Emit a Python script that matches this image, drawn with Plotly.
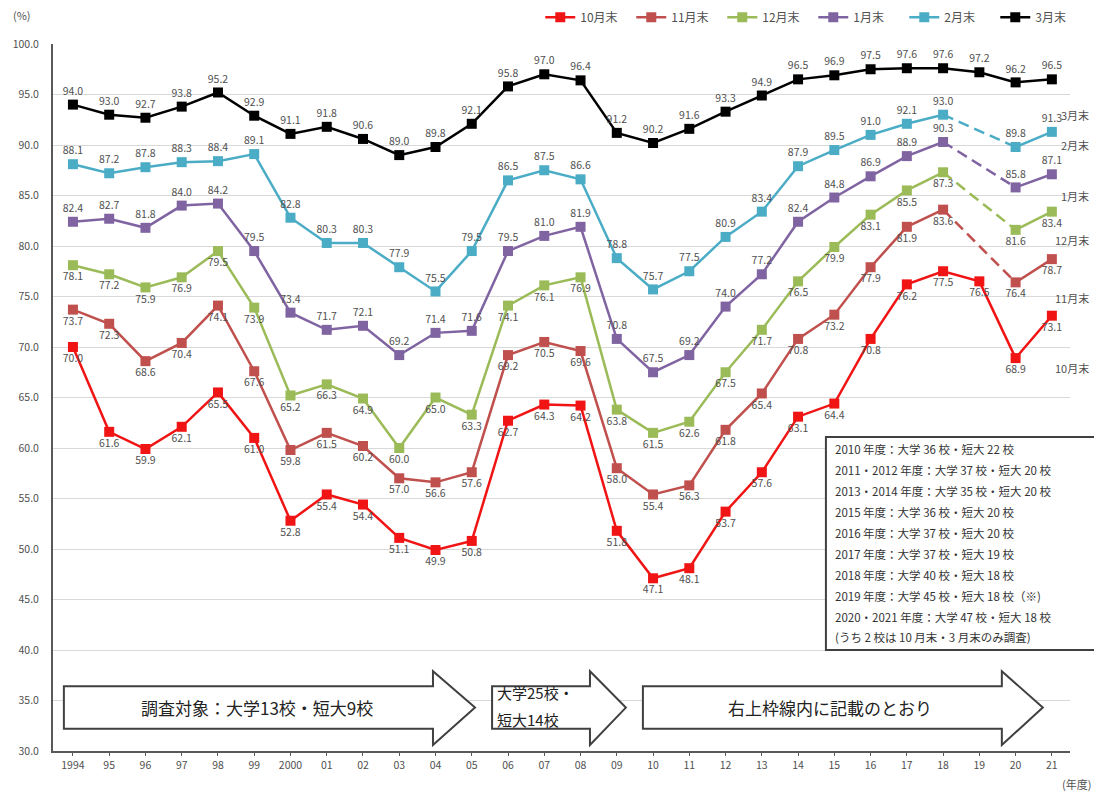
import plotly.graph_objects as go

# ---------------- data ----------------
years = ["1994", "95", "96", "97", "98", "99", "2000", "01", "02", "03", "04", "05",
         "06", "07", "08", "09", "10", "11", "12", "13", "14", "15", "16", "17",
         "18", "19", "20", "21"]

series_names = ["10月末", "11月末", "12月末", "1月末", "2月末", "3月末"]

oct_end = [70.0, 61.6, 59.9, 62.1, 65.5, 61.0, 52.8, 55.4, 54.4, 51.1, 49.9, 50.8,
           62.7, 64.3, 64.2, 51.8, 47.1, 48.1, 53.7, 57.6, 63.1, 64.4, 70.8, 76.2,
           77.5, 76.5, 68.9, 73.1]
nov_end = [73.7, 72.3, 68.6, 70.4, 74.1, 67.6, 59.8, 61.5, 60.2, 57.0, 56.6, 57.6,
           69.2, 70.5, 69.6, 58.0, 55.4, 56.3, 61.8, 65.4, 70.8, 73.2, 77.9, 81.9,
           83.6, None, 76.4, 78.7]
dec_end = [78.1, 77.2, 75.9, 76.9, 79.5, 73.9, 65.2, 66.3, 64.9, 60.0, 65.0, 63.3,
           74.1, 76.1, 76.9, 63.8, 61.5, 62.6, 67.5, 71.7, 76.5, 79.9, 83.1, 85.5,
           87.3, None, 81.6, 83.4]
jan_end = [82.4, 82.7, 81.8, 84.0, 84.2, 79.5, 73.4, 71.7, 72.1, 69.2, 71.4, 71.6,
           79.5, 81.0, 81.9, 70.8, 67.5, 69.2, 74.0, 77.2, 82.4, 84.8, 86.9, 88.9,
           90.3, None, 85.8, 87.1]
feb_end = [88.1, 87.2, 87.8, 88.3, 88.4, 89.1, 82.8, 80.3, 80.3, 77.9, 75.5, 79.5,
           86.5, 87.5, 86.6, 78.8, 75.7, 77.5, 80.9, 83.4, 87.9, 89.5, 91.0, 92.1,
           93.0, None, 89.8, 91.3]
mar_end = [94.0, 93.0, 92.7, 93.8, 95.2, 92.9, 91.1, 91.8, 90.6, 89.0, 89.8, 92.1,
           95.8, 97.0, 96.4, 91.2, 90.2, 91.6, 93.3, 94.9, 96.5, 96.9, 97.5, 97.6,
           97.6, 97.2, 96.2, 96.5]

y_ticks = [30.0, 35.0, 40.0, 45.0, 50.0, 55.0, 60.0, 65.0, 70.0, 75.0, 80.0, 85.0,
           90.0, 95.0, 100.0]

arrow1_label = "調査対象：大学13校・短大9校"
arrow2_lines = ["大学25校・", "短大14校"]
arrow3_label = "右上枠線内に記載のとおり"

info_lines = [
    "2010 年度：大学 36 校・短大 22 校",
    "2011・2012 年度：大学 37 校・短大 20 校",
    "2013・2014 年度：大学 35 校・短大 20 校",
    "2015 年度：大学 36 校・短大 20 校",
    "2016 年度：大学 37 校・短大 20 校",
    "2017 年度：大学 37 校・短大 19 校",
    "2018 年度：大学 40 校・短大 18 校",
    "2019 年度：大学 45 校・短大 18 校（※)",
    "2020・2021 年度：大学 47 校・短大 18 校",
    "(うち 2 校は 10 月末・3 月末のみ調査)",
]

# ---------------- style ----------------
FONT = "Noto Sans CJK JP, Noto Sans, sans-serif"
colors = ["#F01414", "#C0504D", "#9BBB59", "#8064A2", "#4BACC6", "#000000"]
positions = ["bottom center", "bottom center", "bottom center",
             "top center", "top center", "top center"]
all_series = [oct_end, nov_end, dec_end, jan_end, feb_end, mar_end]
end_label_y = [67.9, 74.9, 80.6, 85.0, 90.0, 93.0]

xs = list(range(len(years)))

fig = go.Figure()

for name, vals, col, pos in zip(series_names, all_series, colors, positions):
    fig.add_trace(go.Scatter(
        x=xs, y=vals, name=name, mode="lines+markers+text",
        line=dict(color=col, width=2.5),
        marker=dict(symbol="square", size=10, color=col),
        text=["" if v is None else f"{v:.1f}" for v in vals],
        textposition=pos,
        textfont=dict(size=10.5, color="#505050", family=FONT),
        connectgaps=False, cliponaxis=False,
    ))
    # dashed bridge over the missing 2019 point
    for i, v in enumerate(vals):
        if v is None and 0 < i < len(vals) - 1:
            fig.add_trace(go.Scatter(
                x=[xs[i - 1], xs[i + 1]], y=[vals[i - 1], vals[i + 1]],
                mode="lines", line=dict(color=col, width=2.5, dash="11px,6px"),
                showlegend=False, hoverinfo="skip",
            ))

# ---------------- arrows ----------------
arrow_specs = [
    # (left, head base, tip) in category index units
    (-0.25, 9.93, 11.09),
    (11.56, 14.26, 15.25),
    (15.72, 25.62, 26.75),
]
body_top, body_bot, head_top, head_bot, tip_y = 36.4, 32.2, 37.9, 30.6, 34.3
for (x0, xb, xt) in arrow_specs:
    path = (f"M {x0},{body_bot} L {x0},{body_top} L {xb},{body_top} L {xb},{head_top} "
            f"L {xt},{tip_y} L {xb},{head_bot} L {xb},{body_bot} Z")
    fig.add_shape(type="path", path=path, xref="x", yref="y",
                  fillcolor="white", line=dict(color="#404040", width=2))

fig.add_annotation(x=5.07, y=tip_y, xref="x", yref="y", text=arrow1_label,
                   showarrow=False, font=dict(size=17, color="#222222", family=FONT))
for k, (ln, yv) in enumerate(zip(arrow2_lines, [35.8, 33.1])):
    fig.add_annotation(x=11.64, y=yv, xref="x", yref="y", text=ln,
                       showarrow=False, xanchor="left", yanchor="middle",
                       font=dict(size=15, color="#222222", family=FONT))
fig.add_annotation(x=20.88, y=tip_y, xref="x", yref="y", text=arrow3_label,
                   showarrow=False, font=dict(size=17, color="#222222", family=FONT))

# ---------------- info box ----------------
fig.add_shape(type="rect", xref="paper", yref="paper",
              x0=0.760, x1=1.03, y0=0.143, y1=0.444,
              fillcolor="white", line=dict(color="#404040", width=2))
for k, line in enumerate(info_lines):
    fig.add_annotation(xref="paper", yref="paper", x=0.767, y=0.427 - k * 0.0296,
                       text=line, showarrow=False, xanchor="left", yanchor="middle",
                       font=dict(size=11.5, color="#333333", family=FONT))

# ---------------- end-of-line labels ----------------
for name, yv in zip(series_names, end_label_y):
    fig.add_annotation(xref="paper", yref="y", x=1.021, y=yv, text=name,
                       showarrow=False, xanchor="right",
                       font=dict(size=11, color="#505050", family=FONT))

fig.add_annotation(xref="paper", yref="paper", x=-0.0305, y=1.041, text="(%)",
                   showarrow=False, xanchor="center", yanchor="middle",
                   font=dict(size=11, color="#505050", family=FONT))
fig.add_annotation(xref="paper", yref="paper", x=1.006, y=-0.047, text="(年度)",
                   showarrow=False, xanchor="center", yanchor="middle",
                   font=dict(size=11, color="#505050", family=FONT))

fig.update_layout(
    width=1094, height=795,
    margin=dict(l=53, r=24, t=44, b=44, autoexpand=False),
    plot_bgcolor="white", paper_bgcolor="white",
    font=dict(family=FONT, color="#505050"),
    legend=dict(orientation="h", x=1.016, y=1.038, xanchor="right", yanchor="middle",
                font=dict(size=12, color="#505050", family=FONT),
                entrywidth=46, entrywidthmode="pixels",
                itemwidth=30, bgcolor="rgba(0,0,0,0)"),
    showlegend=True,
)
fig.update_xaxes(range=[-0.55, 27.5], tickvals=xs, ticktext=years,
                 showgrid=False, zeroline=False, showline=True,
                 linecolor="#595959", linewidth=2, ticks="outside", ticklen=3,
                 tickcolor="#595959", tickfont=dict(size=10.5, color="#505050"))
fig.update_yaxes(range=[30, 100], tickvals=y_ticks,
                 ticktext=[f"{v:.1f}" for v in y_ticks],
                 showgrid=True, gridcolor="#d9d9d9", gridwidth=1, zeroline=False,
                 showline=True, linecolor="#595959", linewidth=2,
                 ticks="", ticklabelstandoff=10,
                 tickfont=dict(size=10.5, color="#505050"))

fig.write_html("out.html")
